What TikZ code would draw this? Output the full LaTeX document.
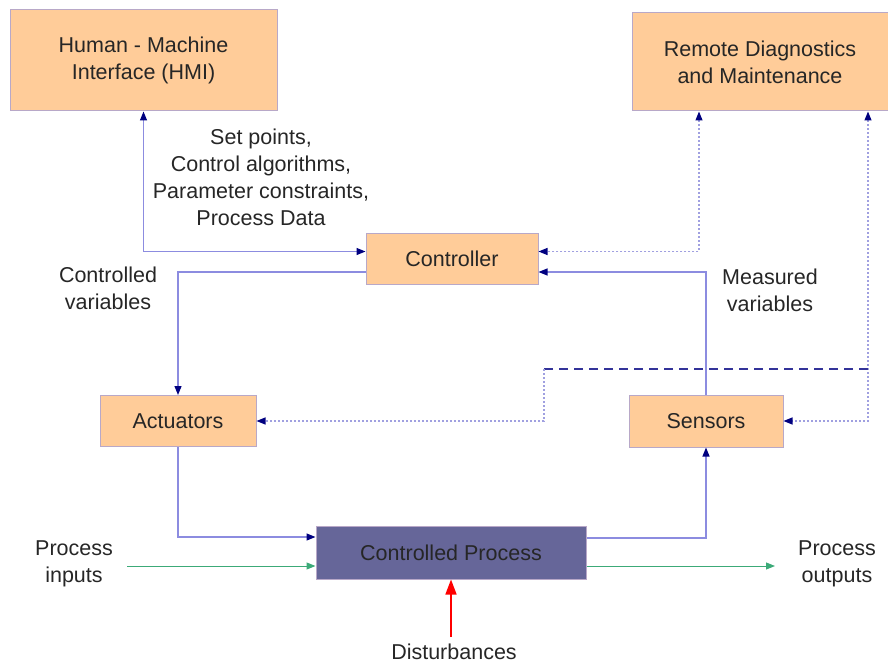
\documentclass[tikz,border=0pt]{standalone}
\usepackage{fontspec}
\setmainfont{Liberation Sans}
\usetikzlibrary{arrows.meta}

\definecolor{boxfill}{HTML}{FFCC99}
\definecolor{boxline}{HTML}{B8A8C8}
\definecolor{procfill}{HTML}{666699}
\definecolor{wire}{HTML}{8C8CE0}
\definecolor{dotline}{HTML}{A0A0E0}
\definecolor{tipblue}{HTML}{000080}
\definecolor{flowgreen}{HTML}{3CAA78}

\begin{document}
\begin{tikzpicture}[x = 1pt, y = -1pt]
\tikzstyle{BlockStyle}=[shape = rectangle,
                        fill = boxfill,
                        draw = boxline,
                        line width = 1pt,
                        align = center,
                        text = black!85,
                        font = \fontsize{21.5}{27}\selectfont]
\tikzstyle{LabelStyle}=[align = center,
                        text = black!85,
                        font = \fontsize{21.5}{27}\selectfont]
\tikzstyle{post}=[-{Triangle[length = 9pt, width = 7pt, color = tipblue]}]
\tikzstyle{pre}=[{Triangle[length = 9pt, width = 7pt, color = tipblue]}-]
\tikzstyle{both}=[{Triangle[length = 9pt, width = 7pt, color = tipblue]}-{Triangle[length = 9pt, width = 7pt, color = tipblue]}]
\tikzstyle{wire}=[draw = wire, line width = 1.2pt]
\tikzstyle{dotwire}=[draw = dotline, line width = 1.2pt, dash pattern = on 2pt off 2pt]
\useasboundingbox (0,0) rectangle (888,666);
% blocks
\node[BlockStyle, minimum width = 267pt, minimum height = 101pt] (hmi) at (143.5,60.5) {Human - Machine\\Interface (HMI)};
\node[BlockStyle, minimum width = 256pt, minimum height = 98pt] (rdm) at (760,62) {Remote Diagnostics\\and Maintenance};
\node[BlockStyle, minimum width = 172pt, minimum height = 51pt] (ctrl) at (452,258.5) {Controller};
\node[BlockStyle, minimum width = 156pt, minimum height = 51pt] (act) at (178,421) {Actuators};
\node[BlockStyle, minimum width = 154pt, minimum height = 52pt] (sens) at (706,421) {Sensors};
\node[BlockStyle, fill = procfill, minimum width = 270pt, minimum height = 53pt] (proc) at (451,552.5) {Controlled Process};
% labels
\node[LabelStyle] (setp) at (261,177) {Set points,\\Control algorithms,\\Parameter constraints,\\Process Data};
\node[LabelStyle] (cvar) at (108,288) {Controlled\\variables};
\node[LabelStyle] (mvar) at (770,290) {Measured\\variables};
\node[LabelStyle] (pin) at (74,564) {Process\\inputs};
\node[LabelStyle] (pout) at (837,564) {Process\\outputs};
\node[LabelStyle] (dlab) at (454,652) {Disturbances};
% free ends
\coordinate (inA) at (127,566);
\coordinate (outB) at (775,566);
\coordinate (dist) at (451,637);
\coordinate (dashR) at (868,369);
\coordinate (dashL) at (544,369);
% connectors
\draw[wire, both] (hmi.south) |- ([yshift = 7pt]ctrl.west);
\draw[wire, post] ([yshift = -13.5pt]ctrl.west) -| (act.north);
\draw[wire, post] (sens.north) |- ([yshift = -13.5pt]ctrl.east);
\draw[dotwire, both] ([xshift = -61pt]rdm.south) |- ([yshift = 7pt]ctrl.east);
\draw[dotwire, both] ([xshift = 108pt]rdm.south) |- (sens.east);
\draw[draw = tipblue!80, line width = 2pt, dash pattern = on 9pt off 6pt] (dashR) -- (dashL);
\draw[dotwire, post] (dashL) |- (act.east);
\draw[wire, post] (act.south) |- ([yshift = 15.5pt]proc.west);
\draw[wire, post] ([yshift = 14.5pt]proc.east) -| (sens.south);
\draw[draw = flowgreen, line width = 1pt, -{Triangle[length = 9pt, width = 7pt]}] (inA) -- (inA -| proc.west);
\draw[draw = flowgreen, line width = 1pt, -{Triangle[length = 9pt, width = 7pt]}] (outB -| proc.east) -- (outB);
\draw[draw = red, line width = 1.5pt, -{Triangle[length = 15pt, width = 11pt]}] (dist) -- (proc.south);
\end{tikzpicture}
\end{document}
